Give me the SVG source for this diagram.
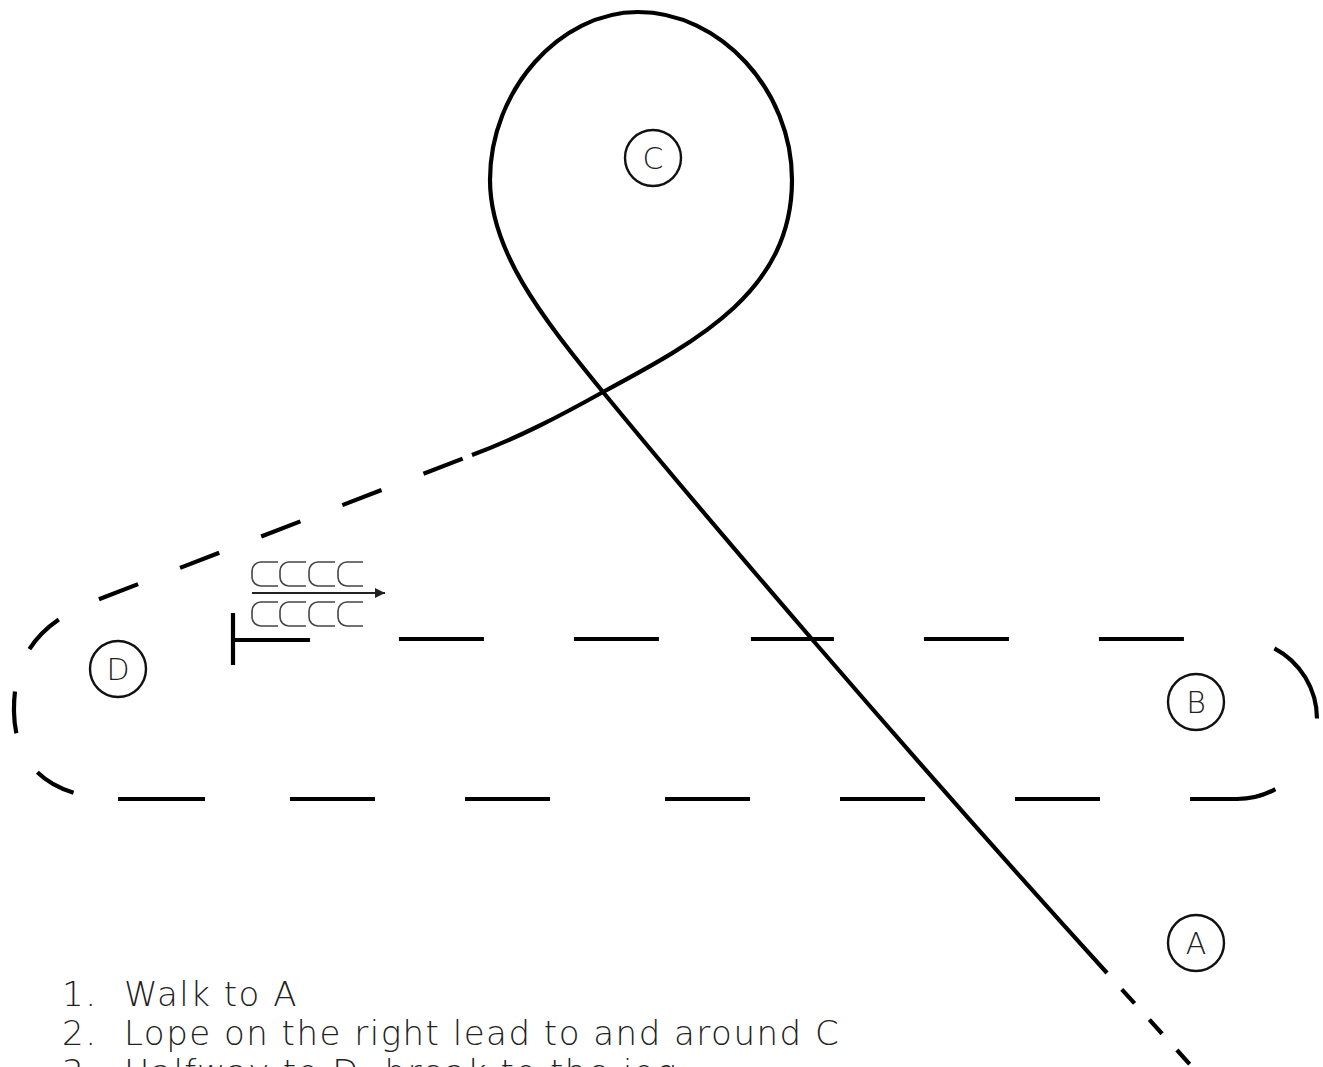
<svg xmlns="http://www.w3.org/2000/svg" width="1323" height="1067" viewBox="0 0 1323 1067">
<style>
.node circle{fill:none;stroke:#111;stroke-width:2.4}
.node text{font-family:"DejaVu Sans","Liberation Sans",sans-serif;font-weight:200;font-size:30px;fill:#222;text-anchor:middle}
.route{fill:none;stroke:#000;stroke-width:4.2;stroke-linecap:butt}
.jog{fill:none;stroke:#444;stroke-width:1.6}
.steps{font-family:"DejaVu Sans","Liberation Sans",sans-serif;font-weight:200;font-size:34px;fill:#222;letter-spacing:1.5px}
</style>
<defs>
<marker id="ah" viewBox="0 0 10 10" refX="10" refY="5" markerWidth="15" markerHeight="10" markerUnits="userSpaceOnUse" orient="auto">
<path d="M0,0 L10,5 L0,10 z" fill="#222"/>
</marker>
</defs>
<rect width="1323" height="1067" fill="#fff"/>
<g id="connectors">
<path class="route" d="M1107,973 C900,745 700,510 603,392 C540,315 490,250 490,180 C490,90 560,12 638,12 C720,12 792,90 792,180 C792,290 700,340 603,392 C560,416 520,437 472,455"/>
<path class="route" d="M1107,973 L1205,1081" stroke-dasharray="19 22" stroke-dashoffset="19"/>
<path class="route" d="M472,455 L97,600 C40,622 13,655 14,712 C15,770 55,799 120,799" stroke-dasharray="42 45" stroke-dashoffset="77"/>
<path class="route" d="M120,799 L1237,799 A80,80 0 0 0 1317,719 A80,80 0 0 0 1237,639 L310,639" stroke-dasharray="85 85 85 90 85 115 85 90 85 90 85 90 87 86 86 92 85 90 85 90 83 92 85 90 85 90"/>
<path class="route" d="M310,640 L233,640 M233,613 L233,665"/>
<g id="jog-marks">
<path class="jog" d="M278,562 H261 A9,9 0 0 0 252,571 V577 A9,9 0 0 0 261,586 H278 M306,562 H289 A9,9 0 0 0 280,571 V577 A9,9 0 0 0 289,586 H306 M335,562 H318 A9,9 0 0 0 309,571 V577 A9,9 0 0 0 318,586 H335 M363,562 H347 A9,9 0 0 0 338,571 V577 A9,9 0 0 0 347,586 H363"/>
<path class="jog" d="M278,602 H261 A9,9 0 0 0 252,611 V617 A9,9 0 0 0 261,626 H278 M306,602 H289 A9,9 0 0 0 280,611 V617 A9,9 0 0 0 289,626 H306 M335,602 H318 A9,9 0 0 0 309,611 V617 A9,9 0 0 0 318,626 H335 M363,602 H347 A9,9 0 0 0 338,611 V617 A9,9 0 0 0 347,626 H363"/>
<path d="M252,593 L385,593" stroke="#222" stroke-width="1.8" marker-end="url(#ah)"/>
</g>
</g>
<g id="node-C" class="node"><circle cx="653" cy="158" r="28"/><text x="653" y="169">C</text></g>
<g id="node-D" class="node"><circle cx="118" cy="669" r="28"/><text x="118" y="680">D</text></g>
<g id="node-B" class="node"><circle cx="1196" cy="702" r="28"/><text x="1196" y="713">B</text></g>
<g id="node-A" class="node"><circle cx="1196" cy="943" r="28"/><text x="1196" y="954">A</text></g>
<g id="steps">
<text class="steps" y="1006"><tspan x="62">1.</tspan><tspan x="124">Walk to A</tspan></text>
<text class="steps" y="1045"><tspan x="62">2.</tspan><tspan x="124">Lope on the right lead to and around C</tspan></text>
<text class="steps" y="1084"><tspan x="62">3.</tspan><tspan x="124">Halfway to D, break to the jog</tspan></text>
</g>
</svg>
